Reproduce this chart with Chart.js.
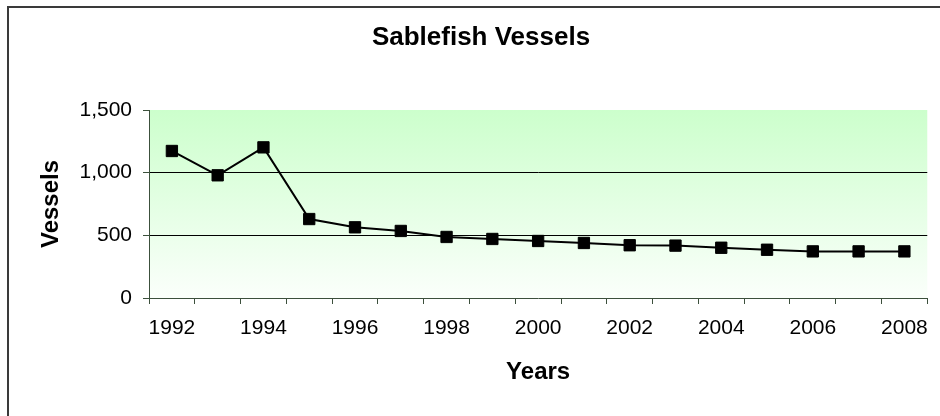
<!DOCTYPE html>
<html>
<head>
<meta charset="utf-8">
<script src="https://cdn.jsdelivr.net/npm/chart.js@4/dist/chart.umd.min.js"></script>
<style>
  html, body { margin: 0; padding: 0; background: #ffffff; }
  #wrap { width: 940px; height: 416px; }
</style>
</head>
<body>
<div id="wrap"><canvas id="c" width="940" height="416"></canvas></div>
<script>
const titleText = 'Sablefish Vessels';
const xTitle = 'Years';
const yTitle = 'Vessels';
const years = ['1992','1993','1994','1995','1996','1997','1998','1999','2000','2001','2002','2003','2004','2005','2006','2007','2008'];
const vessels = [1173, 979, 1202, 630, 564, 535, 487, 471, 455, 439, 421, 418, 401, 385, 372, 372, 372];
const yTicks = [0, 500, 1000, 1500];

const FONT = '"Liberation Sans", Arial, sans-serif';

const framePlugin = {
  id: 'frame',
  beforeDraw(chart) {
    const {ctx, chartArea: a} = chart;
    ctx.save();
    ctx.fillStyle = '#ffffff';
    ctx.fillRect(0, 0, chart.width, chart.height);
    const g = ctx.createLinearGradient(0, a.top, 0, a.bottom);
    g.addColorStop(0, '#ccffcc');
    g.addColorStop(1, '#fbfffb');
    ctx.fillStyle = g;
    ctx.fillRect(a.left, a.top, a.right - a.left, a.bottom - a.top);
    ctx.restore();
  },
  afterDraw(chart) {
    const {ctx} = chart;
    ctx.save();
    ctx.strokeStyle = '#3a3a3a';
    ctx.lineWidth = 2;
    ctx.beginPath();
    ctx.moveTo(8, chart.height);
    ctx.lineTo(8, 7);
    ctx.lineTo(chart.width, 7);
    ctx.stroke();
    ctx.restore();
  }
};

new Chart(document.getElementById('c'), {
  type: 'line',
  data: {
    labels: years,
    datasets: [{
      data: vessels,
      borderColor: '#000000',
      borderWidth: 2,
      backgroundColor: '#000000',
      pointStyle: 'rect',
      pointRadius: 8,
      pointBorderWidth: 1,
      pointBorderColor: '#000000',
      pointBackgroundColor: '#000000',
      tension: 0,
      fill: false
    }]
  },
  options: {
    responsive: false,
    animation: false,
    devicePixelRatio: 1,
    layout: { padding: { left: 31, right: 9, top: 0, bottom: 0 } },
    plugins: {
      legend: { display: false },
      tooltip: { enabled: false },
      title: {
        display: true,
        text: titleText,
        color: '#000000',
        font: { family: FONT, size: 26, weight: 'bold', lineHeight: 1.2 },
        padding: { top: 22, bottom: 56.8 }
      }
    },
    scales: {
      x: {
        type: 'category',
        offset: true,
        afterFit(scale) { scale.height = 118; },
        border: { display: true, color: '#3c503c', width: 1 },
        grid: {
          offset: true,
          drawOnChartArea: false,
          drawTicks: true,
          tickLength: 6,
          tickColor: '#3c503c',
          color: '#3c503c'
        },
        ticks: {
          autoSkip: false,
          maxRotation: 0,
          padding: 12,
          color: '#000000',
          font: { family: FONT, size: 21 },
          callback(value, index) {
            const lab = this.getLabelForValue(value);
            return (parseInt(lab, 10) % 2 === 0) ? lab : '';
          }
        },
        title: {
          display: true,
          text: xTitle,
          color: '#000000',
          font: { family: FONT, size: 24, weight: 'bold', lineHeight: 1.2 },
          padding: { top: 4, bottom: 29 }
        }
      },
      y: {
        min: 0,
        max: 1500,
        afterFit(scale) { scale.width = 118; },
        afterBuildTicks(scale) { scale.ticks = yTicks.map(v => ({ value: v })); },
        border: { display: true, color: '#3c503c', width: 1 },
        grid: {
          drawTicks: true,
          tickLength: 6,
          tickColor: '#3c503c',
          lineWidth: 1,
          color(ctx) {
            const v = ctx.tick ? ctx.tick.value : null;
            return (v === 500 || v === 1000) ? '#000000' : 'rgba(0,0,0,0)';
          }
        },
        ticks: {
          padding: 11,
          color: '#000000',
          font: { family: FONT, size: 21 },
          callback(value) { return Number(value).toLocaleString('en-US'); }
        },
        title: {
          display: true,
          text: yTitle,
          color: '#000000',
          font: { family: FONT, size: 24, weight: 'bold', lineHeight: 1.2 },
          padding: { top: 6, bottom: 4 }
        }
      }
    }
  },
  plugins: [framePlugin]
});
</script>
</body>
</html>
